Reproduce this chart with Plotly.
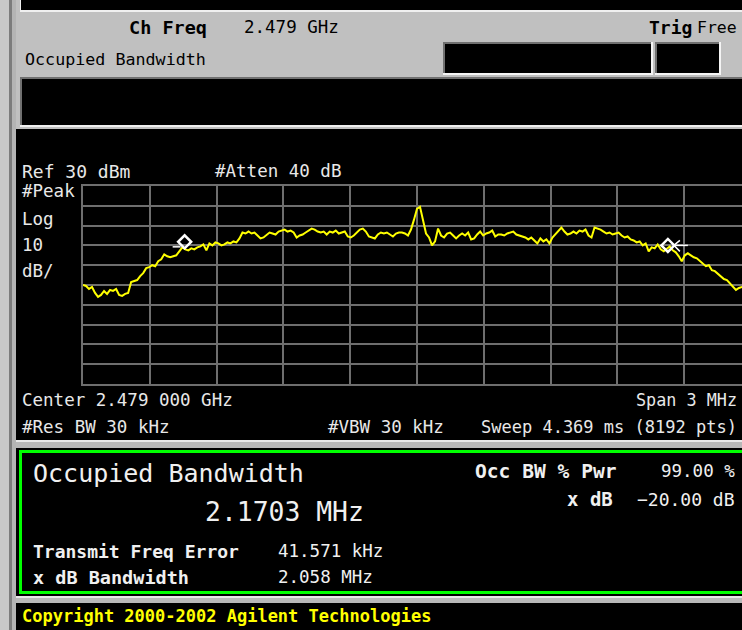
import numpy as np
import plotly.graph_objects as go

# ---------------- data ----------------
CENTER_GHZ = 2.479
SPAN_MHZ = 3.0
REF_DBM = 30
DB_PER_DIV = 10
ATTEN_DB = 40
RBW_KHZ = 30
VBW_KHZ = 30
SWEEP_MS = 4.369
SWEEP_PTS = 8192

OBW_MHZ = 2.1703
OCC_PWR_PCT = 99.00
X_DB = -20.00
FREQ_ERR_KHZ = 41.571
XDB_BW_MHZ = 2.058

# trace level (dBm) read across the full span, left to right
levels_dbm = [
    -20, -20.5, -22, -21, -24, -26, -25, -23, -24.5, -22.5, -23, -22, -25, -25.5, -24.5, -24,
    -18.5, -18, -17.5, -15.5, -14, -11.5, -11, -10, -10.5, -8, -7, -4.5, -5.5, -6, -5.5, -5,
    -3, -1, -2, -2.5, -1.5, -2, -1, -0.5, 0.5, -2.5, 1, 0, 1.5, 1, 0, 0.5,
    1.5, 1, 2, 1.5, 3.5, 6.5, 6, 7, 6, 6.5, 5, 3.5, 4, 5.5, 6.5, 6,
    5.5, 7, 7.5, 8, 7, 7.5, 6.5, 4, 5, 5.5, 6.5, 7.5, 8.5, 8, 7, 6.5,
    7, 5.5, 7, 6.5, 7.5, 6, 6.5, 7, 4.5, 4, 5, 6.5, 8, 8.5, 7, 4.5,
    4, 3.5, 5.5, 6.5, 6, 6.5, 5.5, 4.5, 6, 6.5, 6.5, 6, 5, 8, 13, 18.5,
    19.5, 12, 6, 4, 0, 2, 8.5, 5, 4, 6, 6.5, 5, 3.5, 5, 6, 5,
    6.5, 3, 3.5, 5.5, 7, 5, 6, 6.5, 7.5, 4.5, 5.5, 5.5, 5, 6, 6.5, 7,
    5.5, 5, 4.5, 4, 3, 4, 2.5, 1, 3.5, 2, 3, 1, 4, 5.5, 7, 9,
    7, 5.5, 6, 7, 6, 7.5, 7, 8, 5, 4, 9, 8.5, 8, 7, 6, 6.5,
    5.5, 6, 6.5, 5, 4, 4.5, 3, 2.5, 1.5, 2, 0, 1, -3, -1, -1.5, 0.5,
    -2, -3, -1.5, -0.5, -2.5, -3.5, -5.5, -8, -5, -4, -5, -6, -6.5, -8, -9, -10.5,
    -10, -12.5, -13, -14.5, -16, -17, -17.5, -19, -20.5, -22.5, -21.5, -21, -21.5, -22, -21,
]
freq_offset_mhz = np.linspace(-SPAN_MHZ / 2, SPAN_MHZ / 2, len(levels_dbm))

# OBW markers (edges of occupied bandwidth around the carrier error)
marker_freqs = [FREQ_ERR_KHZ / 1000 - OBW_MHZ / 2, FREQ_ERR_KHZ / 1000 + OBW_MHZ / 2]
marker_levels = [1.8, 0.0]

# ---------------- layout geometry (pixels) ----------------
W, H = 742, 630
PL, PT, PB = 83, 186, 384          # plot area left/top/bottom
GRID_W = 668                         # full 10-division width (right edge off-screen)
PR = W
x_right = -SPAN_MHZ / 2 + (PR - PL) / GRID_W * SPAN_MHZ
MHZ_PER_PX = SPAN_MHZ / GRID_W
DB_PER_PX = DB_PER_DIV * 10 / (PB - PT)


def px(x, y):
    return (x - PL) / (PR - PL), (PB - y) / (PB - PT)


shapes = []


def rect(x0, y0, x1, y1, fill=None, line=None, lw=0):
    a, b = px(x0, y0)
    c, d = px(x1, y1)
    shapes.append(dict(type="rect", xref="paper", yref="paper", x0=a, y0=d, x1=c, y1=b,
                       fillcolor=fill if fill else "rgba(0,0,0,0)",
                       line=dict(color=line if line else "rgba(0,0,0,0)", width=lw),
                       layer="above"))


# left strip
rect(0, 0, 9, H, "#c8c8c8")
rect(9, 0, 12, H, "#7c7c7c")
rect(12, 0, 16, H, "#b4b4b4")
# top panel
rect(16, 0, W, 129, "#c0c0c0")
rect(20, 0, W, 12, "#f0f0f0")
rect(21, 0, W, 10, "#000000")
for bx0, bx1 in [(443, 653), (655, 721)]:
    rect(bx0, 42, bx1, 75, "#f4f4f4")
    rect(bx0, 42, bx1 - 2, 73, "#707070")
    rect(bx0 + 2, 44, bx1 - 2, 73, "#000000")
rect(20, 77, W, 127, "#f0f0f0")
rect(20, 77, W, 125, "#707070")
rect(22, 79, W, 125, "#000000")
# separators
rect(16, 440, W, 442, "#e8e8e8")
rect(16, 442, W, 448, "#b8b8b8")
rect(16, 596, W, 598, "#e8e8e8")
rect(16, 598, W, 603, "#b8b8b8")
# results box green frame
rect(20.5, 451.5, 760, 592.5, None, "#00ff00", 3)

FONT = "DejaVu Sans Mono"
annotations = []


def text(s, x, y, size, color, anchor="left"):
    a, b = px(x, y)
    annotations.append(dict(text=s, x=a, y=b, xref="paper", yref="paper", showarrow=False,
                            xanchor=anchor, yanchor="middle",
                            font=dict(family=FONT, size=size, color=color)))


BLK = "#000000"
TXT = "#e8e8e8"
WHT = "#f0f0f0"
YEL = "#ffff00"

text("<b>Ch Freq</b>", 127, 27, 18.5, BLK)
text(f"{CENTER_GHZ:.3f} GHz", 242, 27, 17.5, BLK)
text("<b>Trig</b>", 647, 27, 18, BLK)
text("Free", 739, 27, 16.5, BLK, "right")
text("Occupied Bandwidth", 23, 59, 16.7, BLK)

text(f"Ref {REF_DBM} dBm", 20, 171, 18, TXT)
text(f"#Atten {ATTEN_DB} dB", 213, 171, 17.5, TXT)
text("#Peak", 20, 191, 17.5, TXT)
text("Log", 20, 219, 17.5, TXT)
text(f"{DB_PER_DIV}", 20, 245, 17.5, TXT)
text("dB/", 20, 271, 17.5, TXT)
text(f"Center {CENTER_GHZ:.3f} 000 GHz", 20, 400, 17.5, TXT)
text(f"Span {SPAN_MHZ:g} MHz", 739, 400, 16.8, TXT, "right")
text(f"#Res BW {RBW_KHZ} kHz", 20, 427, 17.5, TXT)
text(f"#VBW {VBW_KHZ} kHz", 326, 427, 17.5, TXT)
text(f"Sweep {SWEEP_MS} ms ({SWEEP_PTS} pts)", 739, 427, 17.0, TXT, "right")

text("Occupied Bandwidth", 31, 473, 25, WHT)
text(f"{OBW_MHZ:.4f} MHz", 203, 511, 26.4, WHT)
text("<b>Occ BW % Pwr</b>", 473, 471, 19.6, WHT)
text(f"{OCC_PWR_PCT:.2f} %", 737, 471, 17.5, WHT, "right")
text("<b>x dB</b>", 615, 499, 19, WHT, "right")
text(f"\u2212{abs(X_DB):.2f} dB", 737, 499, 18, WHT, "right")
text("<b>Transmit Freq Error</b>", 31, 551, 18, WHT)
text(f"{FREQ_ERR_KHZ:.3f} kHz", 276, 551, 17.5, WHT)
text("<b>x dB Bandwidth</b>", 31, 577, 18.5, WHT)
text(f"{XDB_BW_MHZ:.3f} MHz", 276, 577, 17.5, WHT)
text("<b>Copyright 2000-2002 Agilent Technologies</b>", 20, 616, 17, YEL)

fig = go.Figure()
fig.add_trace(go.Scatter(x=freq_offset_mhz, y=levels_dbm, mode="lines",
                         line=dict(color="#ffff00", width=2), hoverinfo="skip"))

# marker decorations: left stub and right arrow
lx, ly = marker_freqs[0], marker_levels[0]
fig.add_trace(go.Scatter(x=[lx - 12 * MHZ_PER_PX, lx - 4 * MHZ_PER_PX],
                         y=[ly - 5 * DB_PER_PX, ly - 5 * DB_PER_PX], mode="lines",
                         line=dict(color="white", width=1.5), cliponaxis=False))
rx, ry = marker_freqs[1], marker_levels[1]
fig.add_trace(go.Scatter(
    x=[rx + 20 * MHZ_PER_PX, rx + 6 * MHZ_PER_PX, None,
       rx + 12 * MHZ_PER_PX, rx + 6 * MHZ_PER_PX, rx + 12 * MHZ_PER_PX],
    y=[ry, ry, None, ry + 5 * DB_PER_PX, ry, ry - 6 * DB_PER_PX],
    mode="lines", line=dict(color="white", width=1.5), cliponaxis=False))
fig.add_trace(go.Scatter(x=marker_freqs, y=marker_levels, mode="markers",
                         marker=dict(symbol="diamond-open", size=10, color="white",
                                     line=dict(color="white", width=2.5)),
                         cliponaxis=False))

GRID = "#6e6e6e"
fig.update_layout(
    width=W, height=H,
    margin=dict(l=PL, r=W - PR, t=PT, b=H - PB, pad=0),
    paper_bgcolor="#000000", plot_bgcolor="#000000",
    showlegend=False,
    shapes=shapes, annotations=annotations,
    xaxis=dict(range=[-SPAN_MHZ / 2, x_right], tick0=-SPAN_MHZ / 2, dtick=SPAN_MHZ / 10,
               showgrid=True, gridcolor=GRID, gridwidth=2, showticklabels=False,
               ticks="", zeroline=False, showline=True, mirror=True,
               linecolor=GRID, linewidth=2, fixedrange=True),
    yaxis=dict(range=[REF_DBM - 10 * DB_PER_DIV, REF_DBM], tick0=REF_DBM, dtick=DB_PER_DIV,
               showgrid=True, gridcolor=GRID, gridwidth=2, showticklabels=False,
               ticks="", zeroline=False, showline=True, mirror=False,
               linecolor=GRID, linewidth=2, fixedrange=True),
)

fig.write_html("out.html", config={"displayModeBar": False},
               post_script="document.body.style.margin='0';document.body.style.overflow='hidden';")
